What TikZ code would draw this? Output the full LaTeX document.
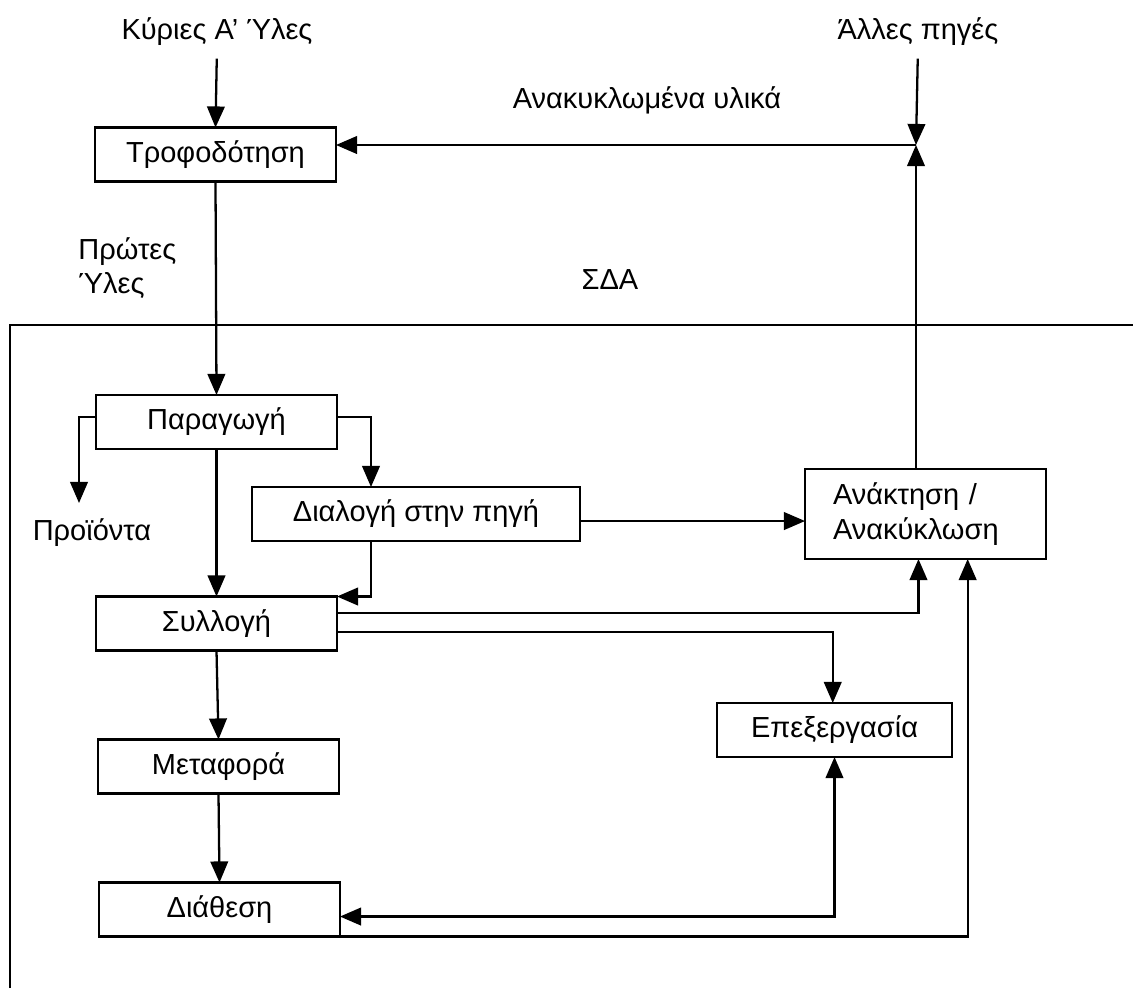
\documentclass[tikz,border=0pt]{standalone}
\usepackage{fontspec}
\setmainfont{Liberation Sans}
\usetikzlibrary{arrows.meta, calc}

\tikzset{
  box/.style={draw, line width=1.3pt, minimum width=4.82cm, minimum height=1.08cm, inner sep=0pt, outer sep=0pt},
  lbl/.style={inner sep=0pt},
  arr/.style={line width=1.3pt, -{Triangle[length=12pt,width=10pt]}},
  darr/.style={line width=1.3pt, {Triangle[length=12pt,width=10pt]}-{Triangle[length=12pt,width=10pt]}}
}

\begin{document}
\begin{tikzpicture}[line join=miter,x=0.02cm,y=-0.02cm,font=\fontsize{16.5}{19.5}\selectfont]
\useasboundingbox (0,0) rectangle (1133,988);

% boundary of the system
\draw[line width=1.3pt] (10,988) -- (10,325) -- (1133,325);

% boxes
\node[box] (trof) at (215.5,154.5) {Τροφοδότηση};
\node[box] (parag) at (216.5,422) {Παραγωγή};
\node[box, minimum width=6.56cm] (dial) at (416,514) {Διαλογή στην πηγή};
\node[box] (syll) at (216.5,623.5) {Συλλογή};
\node[box] (metaf) at (218.5,766.5) {Μεταφορά};
\node[box] (diath) at (219.5,909.5) {Διάθεση};
\node[box, minimum width=4.7cm] (epex) at (834.5,730) {Επεξεργασία};
\node[box, text width=3.7cm, inner xsep=0.36cm, minimum height=1.8cm, align=left] (anakt) at (925.5,514) {Ανάκτηση /\\Ανακύκλωση};

% free labels
\node[lbl] (kyries) at (217,32) {Κύριες Α' Ύλες};
\node[lbl] (alles) at (918,32) {Άλλες πηγές};
\node[lbl] (anakykl) at (647,100) {Ανακυκλωμένα υλικά};
\node[lbl, align=left, anchor=west] (prwtes) at (78,268) {Πρώτες\\Ύλες};
\node[lbl] (sda) at (610,280) {ΣΔΑ};
\node[lbl] (proi) at (92,533) {Προϊόντα};

\coordinate (junc) at (916,145);
\coordinate (pout) at (79,503);
\coordinate (dsplit) at (371,0);

% connectors
\draw[arr, shorten <=7pt] (kyries.south) -- (trof.north);
\draw[arr, shorten <=7pt] (alles.south) -- (junc);
\draw[arr] (junc |- anakt.north) -- (junc);
\draw[arr] (junc) -- (junc -| trof.east);
\draw[arr] (trof.south) -- (parag.north);
\draw[arr] ([yshift=3pt]parag.west) -| (pout);
\draw[arr] ([yshift=3pt]parag.east) -| (dsplit |- dial.north);
\draw[arr] (parag.south) -- (syll.north);
\draw[arr] (dsplit |- dial.south) |- (syll.north east);
\draw[arr] ([yshift=-4pt]dial.east) -- ([yshift=-4pt]dial.east -| anakt.west);
\draw[arr] ([yshift=6pt]syll.east) -| ([xshift=-4pt]anakt.south);
\draw[arr] ([yshift=-5pt]syll.east) -| ([xshift=-1pt]epex.north);
\draw[arr] (diath.south east) -| ([xshift=24pt]anakt.south);
\draw[darr] (epex.south) |- ([yshift=-4pt]diath.east);
\draw[arr] (syll.south) -- (metaf.north);
\draw[arr] (metaf.south) -- (diath.north);

\end{tikzpicture}
\end{document}
